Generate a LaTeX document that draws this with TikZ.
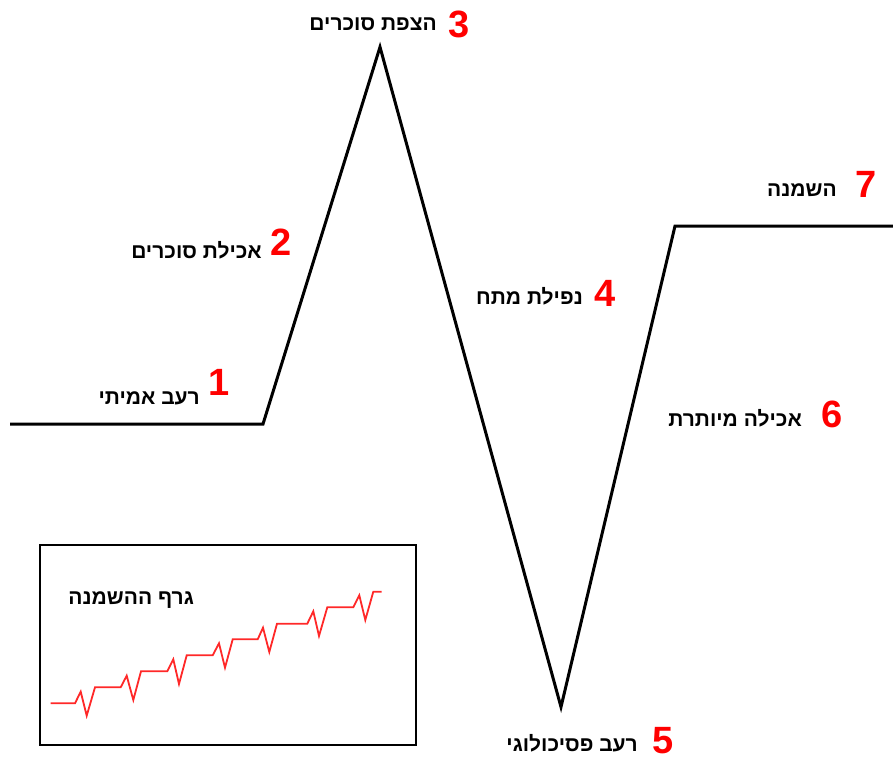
\documentclass[tikz,border=0pt]{standalone}
\usepackage{fontspec}
\setmainfont{Liberation Sans}
\newfontfamily\hebfont[Script=Hebrew]{Liberation Sans}
\TeXXeTstate=1
\definecolor{numred}{RGB}{255,0,0}
\definecolor{graphred}{RGB}{255,40,40}
\tikzset{
  heb/.style={inner sep=0pt, anchor=base east, font=\hebfont\bfseries\fontsize{21}{21}\selectfont},
  num/.style={inner sep=0pt, anchor=base, text=numred, font=\bfseries\fontsize{38}{38}\selectfont},
  mainline/.style={line width=3pt, black, line join=miter},
}
\newcommand{\heb}[1]{\beginR #1\endR}
\begin{document}
\begin{tikzpicture}[x=1pt,y=-1pt]
\useasboundingbox (0,0) rectangle (893,764);
% main curve
\coordinate (s) at (10,424);
\coordinate (c1) at (263,424);
\coordinate (p3) at (380,47);
\coordinate (p5) at (561,707);
\coordinate (c7) at (675,226);
\coordinate (e) at (893,226);
\draw[mainline] (s) -- (c1) -- (p3) -- (p5) -- (c7) -- (e);
% labels
\node[num] (n1) at (219,395) {1};
\node[heb] (t1) at (200,404) {\heb{רעב אמיתי}};
\node[num] (n2) at (281,255) {2};
\node[heb] (t2) at (262,258) {\heb{אכילת סוכרים}};
\node[num] (n3) at (459,37) {3};
\node[heb] (t3) at (437,30) {\heb{הצפת סוכרים}};
\node[num] (n4) at (605,306) {4};
\node[heb] (t4) at (583,304) {\heb{נפילת מתח}};
\node[num] (n5) at (663,753) {5};
\node[heb] (t5) at (638,751) {\heb{רעב פסיכולוגי}};
\node[num] (n6) at (832,427) {6};
\node[heb] (t6) at (802,426) {\heb{אכילה מיותרת}};
\node[num] (n7) at (866,197) {7};
\node[heb] (t7) at (837,196) {\heb{השמנה}};
% inset
\node[draw, line width=1.5pt, minimum width=376pt, minimum height=200pt, inner sep=0pt, anchor=north west] (box) at (39,544) {};
\node[heb] (title) at (194,604) {\heb{גרף ההשמנה}};
\draw[graphred, line width=1.8pt, line join=miter]
  (50.7,703.3) -- (75,703.3) -- (80.7,691.7) -- (86.7,715.7) -- (95,687.3)
  -- (120.7,687.3) -- (126.7,675.7) -- (133.3,700) -- (141,671.3)
  -- (167.3,671.3) -- (173.3,659.3) -- (179,684) -- (186.7,655.3)
  -- (212.7,655.3) -- (219,643.3) -- (225,667.7) -- (232.7,639.3)
  -- (257.7,639.3) -- (263,627.7) -- (269.3,652) -- (277,623.7)
  -- (307.3,623.7) -- (313.3,611.3) -- (319,636) -- (327.3,607.3)
  -- (353.3,607.3) -- (359.3,595.3) -- (365.3,620) -- (373.3,591.7)
  -- (381.7,591.7);
\end{tikzpicture}
\end{document}
